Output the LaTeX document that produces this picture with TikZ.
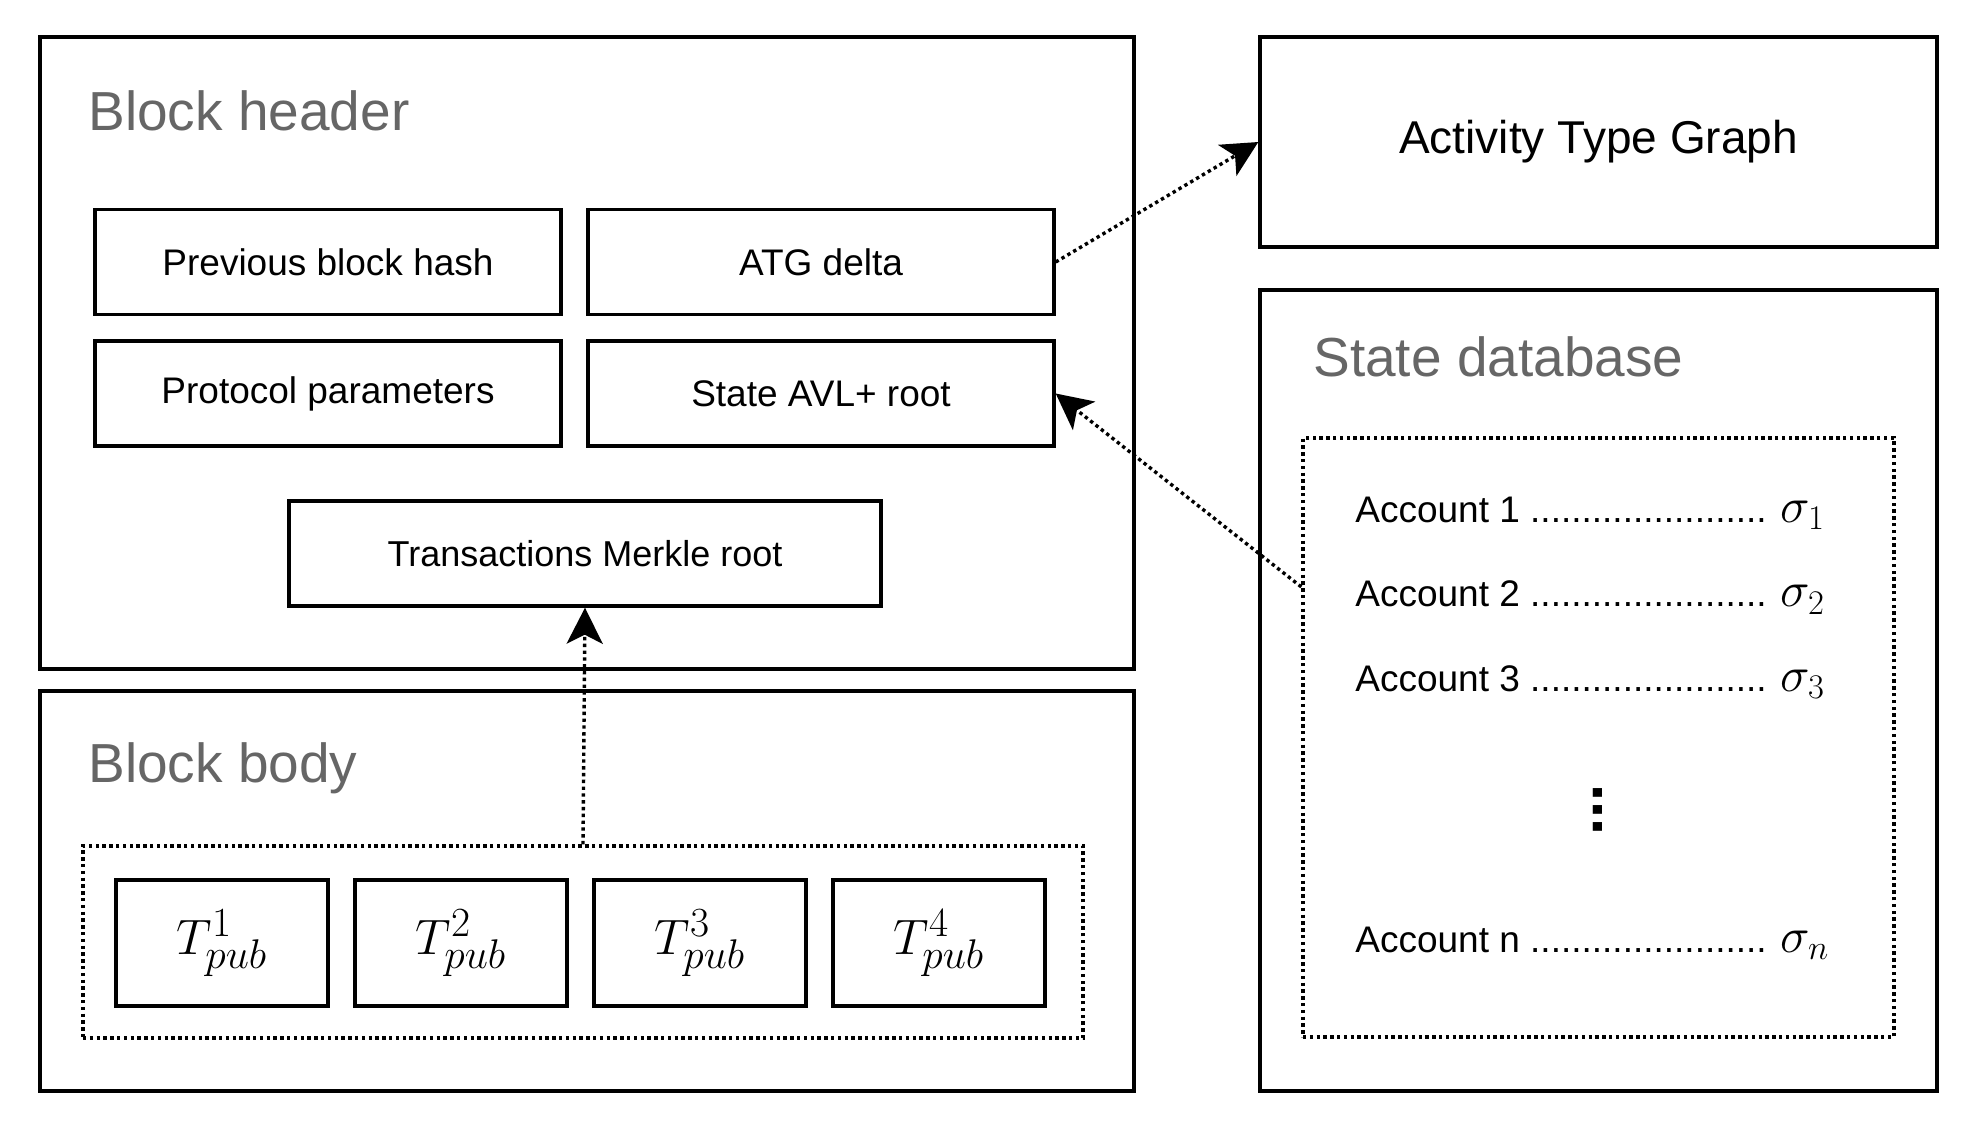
\documentclass[tikz,border=0pt]{standalone}
\usepackage[no-math]{fontspec}
\setmainfont{Liberation Sans}
\usetikzlibrary{arrows.meta}
\usetikzlibrary{calc}
\definecolor{labelgray}{HTML}{666666}

\begin{document}
\begin{tikzpicture}[x=0.5pt, y=-0.5pt,
		container/.style={draw, line width=1.7pt, inner sep=0pt},
		box/.style={draw, line width=1.7pt, inner sep=0pt, minimum width=233pt, minimum height=52.5pt, font=\fontsize{18.5}{22}\selectfont},
		txbox/.style={draw, line width=1.7pt, inner sep=0pt, minimum width=106pt, minimum height=63pt, font=\fontsize{28}{32}\selectfont},
		group/.style={draw, line width=1.7pt, dash pattern=on 1.7pt off 1.7pt, inner sep=0pt},
		title/.style={anchor=west, inner sep=0pt, text=labelgray, font=\fontsize{27.5}{32}\selectfont},
		account/.style={anchor=west, inner sep=0pt, font=\fontsize{18.5}{22}\selectfont},
		link/.style={line width=1.7pt, dash pattern=on 1.7pt off 1.7pt, -{Stealth[length=18pt, width=18pt, inset=4.5pt]}}]
		\useasboundingbox (0,0) rectangle (1970,1126);
		
		% Draw the containers
		\node[container, minimum width=547pt, minimum height=316pt] (header) at (587,353) {};
		\node[container, minimum width=547pt, minimum height=200pt] (body) at (587,891) {};
		\node[container, minimum width=338.5pt, minimum height=105pt, font=\fontsize{23}{28}\selectfont] (atg) at (1598.5,142) {Activity Type Graph};
		\node[container, minimum width=338.5pt, minimum height=400.5pt] (statedb) at (1598.5,690.5) {};
		
		% Label the containers
		\node[title] (headerlabel) at (88,111) {Block header};
		\node[title] (bodylabel) at (88,768) {Block body};
		\node[title] (statelabel) at (1313,357) {State database};
		
		% Header fields
		\node[box] (prevhash) at (328,262) {Previous block hash};
		\node[box] (atgdelta) at (821,262) {ATG delta};
		\node[box] (params) at (328,393.5) {Protocol parameters};
		\node[box] (avlroot) at (821,393.5) {State AVL+ root};
		\node[box, minimum width=296pt, font=\fontsize{18}{22}\selectfont] (merkle) at (585,553.5) {Transactions Merkle root};
		
		% Transactions in the body
		\node[group, minimum width=500pt, minimum height=96pt] (txlist) at (583,942) {};
		\foreach \i in {1,...,4}
			\node[txbox] (tx\i) at ({222+239*(\i-1)},943) {$T^{\i}_{pub}$};
		
		% Accounts in the state database
		\node[group, minimum width=295.5pt, minimum height=299.5pt] (accounts) at (1598.5,737.5) {};
		\foreach \i in {1,2,3}
			\node[account] (acc\i) at (1355,{513+84.5*(\i-1)}) {Account \i{} ....................... \fontsize{24}{28}\selectfont$\sigma_{\i}$};
		\node[rotate=90, inner sep=0pt, font=\fontsize{31}{34}\bfseries] (accdots) at (1598,810) {...};
		\node[account] (accn) at (1355,943) {Account n ....................... \fontsize{24}{28}\selectfont$\sigma_{n}$};
		
		% Links
		\coordinate (statport) at ($(accounts.north west)!0.25!(accounts.south west)$);
		\draw[link] (atgdelta.east) -- (atg.west);
		\draw[link] (statport) -- (avlroot.east);
		\draw[link] (txlist.north) -- (merkle.south);
	\end{tikzpicture}
\end{document}
